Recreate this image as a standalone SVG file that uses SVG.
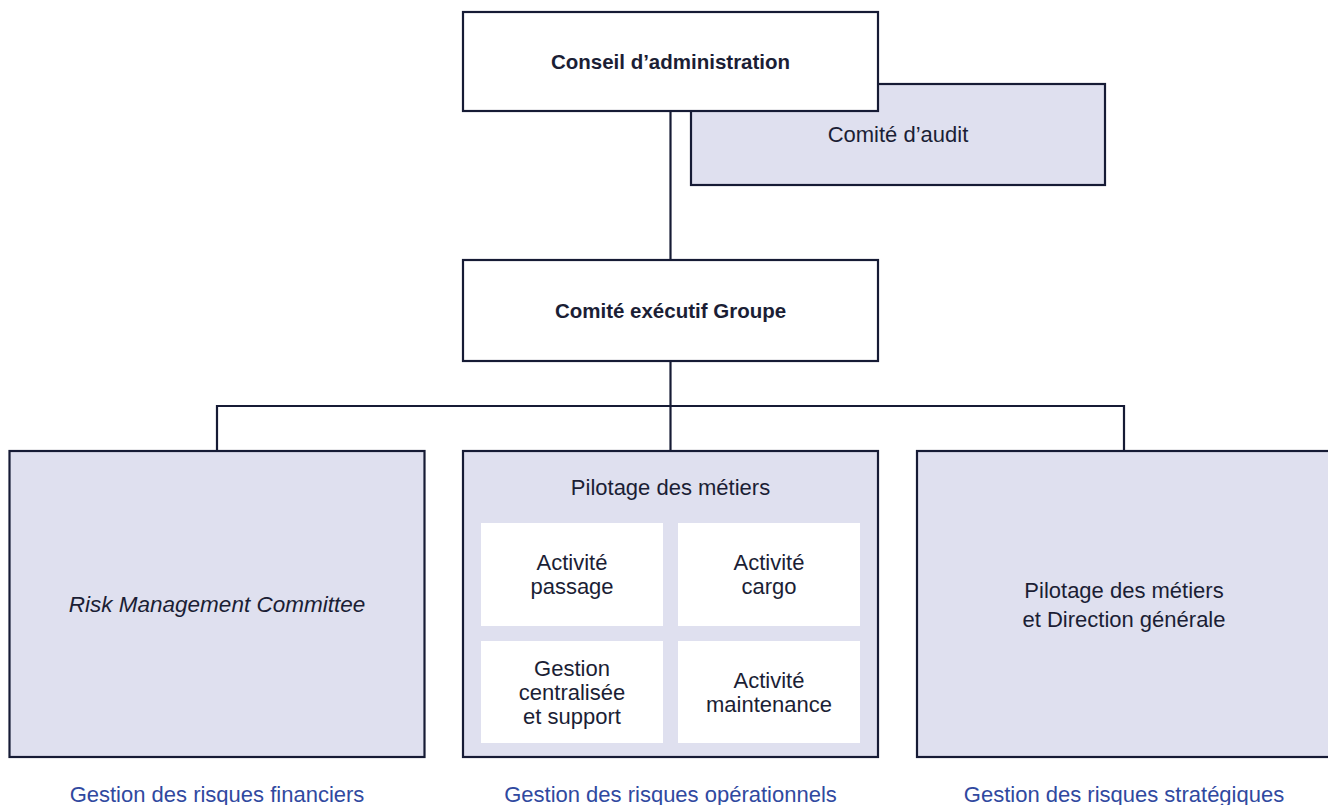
<svg xmlns="http://www.w3.org/2000/svg" width="1328" height="805" viewBox="0 0 1328 805">
<style>
.box{stroke:#161b35;stroke-width:2.2;}
.white{fill:#ffffff;}
.tint{fill:#dfe0ef;}
.inner{fill:#ffffff;stroke:none;}
.conn{fill:none;stroke:#161b35;stroke-width:2.2;}
text{font-family:"Liberation Sans",Arial,sans-serif;fill:#1b1e35;text-anchor:middle;}
.t{font-size:22px;}
.b{font-size:20.5px;font-weight:bold;}
.i{font-size:22.5px;font-style:italic;}
.lbl{font-size:22px;fill:#3049a0;}
</style>
<rect width="1328" height="805" fill="#ffffff"/>
<g id="connectors">
<line class="conn" x1="670.5" y1="111" x2="670.5" y2="260"/>
<line class="conn" x1="670.5" y1="361" x2="670.5" y2="451"/>
<polyline class="conn" points="217,451 217,406 1124,406 1124,451"/>
</g>
<g id="comite-audit">
<rect class="box tint" x="691" y="84" width="414" height="101"/>
<text class="t" x="898" y="142">Comité d’audit</text>
</g>
<g id="conseil">
<rect class="box white" x="463" y="12" width="415" height="99"/>
<text class="b" x="670.5" y="69">Conseil d’administration</text>
</g>
<g id="comex">
<rect class="box white" x="463" y="260" width="415" height="101"/>
<text class="b" x="670.5" y="318">Comité exécutif Groupe</text>
</g>
<g id="risk">
<rect class="box tint" x="9.5" y="451" width="415" height="306"/>
<text class="i" x="217" y="612">Risk Management Committee</text>
</g>
<g id="pilotage">
<rect class="box tint" x="463" y="451" width="415" height="306"/>
<text class="t" x="670.5" y="495">Pilotage des métiers</text>
<g id="passage">
<rect class="inner" x="481" y="523" width="182" height="103"/>
<text class="t" x="572" y="570">Activité</text>
<text class="t" x="572" y="594">passage</text>
</g>
<g id="cargo">
<rect class="inner" x="678" y="523" width="182" height="103"/>
<text class="t" x="769" y="570">Activité</text>
<text class="t" x="769" y="594">cargo</text>
</g>
<g id="gestion">
<rect class="inner" x="481" y="641" width="182" height="102"/>
<text class="t" x="572" y="676">Gestion</text>
<text class="t" x="572" y="700">centralisée</text>
<text class="t" x="572" y="724">et support</text>
</g>
<g id="maintenance">
<rect class="inner" x="678" y="641" width="182" height="102"/>
<text class="t" x="769" y="688">Activité</text>
<text class="t" x="769" y="712">maintenance</text>
</g>
</g>
<g id="direction">
<rect class="box tint" x="917" y="451" width="415" height="306"/>
<text class="t" x="1124" y="598">Pilotage des métiers</text>
<text class="t" x="1124" y="627">et Direction générale</text>
</g>
<g id="labels">
<text class="lbl" x="217" y="802">Gestion des risques financiers</text>
<text class="lbl" x="670.5" y="802">Gestion des risques opérationnels</text>
<text class="lbl" x="1124" y="802">Gestion des risques stratégiques</text>
</g>
</svg>
